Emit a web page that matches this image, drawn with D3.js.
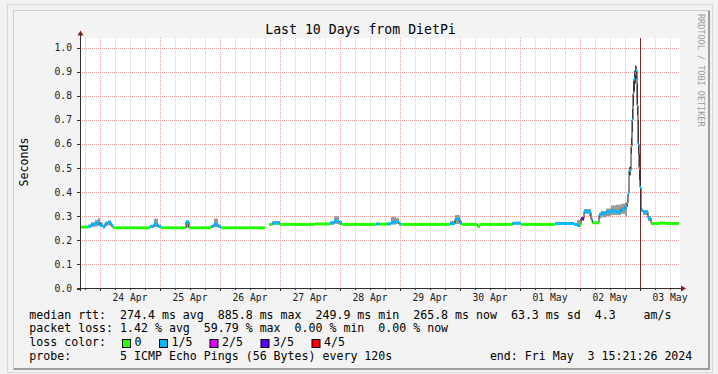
<!DOCTYPE html>
<html>
<head>
<meta charset="utf-8">
<script src="https://cdn.jsdelivr.net/npm/d3@7"></script>
<style>
body { margin: 0; background: #f2f2f2; }
svg text { font-family: "DejaVu Sans Mono", monospace; white-space: pre; }
</style>
</head>
<body>
<div id="root"></div>
<script>
// hours since 23 Apr 16:00 where each step starts
const stepHours = [0, 3.2, 4.4, 6, 7.2, 8, 9.2, 10, 11.2, 12.4, 13.2, 28, 29.6, 31.2, 32.4, 42.4, 43.6,
	52.4, 53.6, 55.2, 56.4, 74, 75.6, 77, 80, 94, 100, 101.6, 103.6, 104.8, 118.4, 120, 122.8, 124.4,
	126.4, 127.6, 128.4, 148, 150, 152, 152.8, 159, 160, 173, 176.4, 190, 197.6, 198.8, 200, 200.4,
	201.6, 203.6, 204.4, 205, 207.6, 208.4, 210.4, 212.4, 214.4, 216.4, 218, 218.8, 219.2, 219.6,
	220.4, 220.8, 221.2, 221.6, 222, 222.4, 222.8, 223.2, 223.6, 224, 224.4, 225.2, 227.2, 228.4,
	232, 234]
const lastHour = 239.6
// median rtt in ms (null = no data)
const medianMs = [255, 258, 266, 270, 276, 262, 256, 270, 275, 262, 252, 258, 268, 258, 252, 277, 252,
	258, 268, 258, 252, null, 266, 272, 266, 268, 272, 280, 272, 266, 268, 267, 268, 275,
	278, 268, 266, 270, 288, 272, 266, 258, 266, 271, 266, 270, 266, 262, 265, 290,
	320, 316, 285, 273, 305, 312, 318, 322, 318, 330, 340, 355, 395, 490,
	590, 700, 810, 870, 893, 905, 760, 600, 500, 420, 325, 318, 292, 270,
	272, 270]
// lost pings out of 5
const lossCount = [0, 1, 1, 1, 1, 1, 1, 1, 1, 1, 0, 1, 1, 1, 0, 1, 0,
	1, 1, 1, 0, 0, 0, 1, 0, 0, 1, 1, 1, 0, 1, 0, 1, 1,
	1, 1, 0, 1, 1, 1, 0, 0, 0, 1, 0, 1, 1, 1, 0, 3,
	1, 1, 1, 0, 1, 1, 1, 1, 1, 1, 1, 1, 1, 1,
	1, 1, 1, 1, 1, 1, 1, 1, 1, 1, 1, 1, 1, 0,
	0, 0]
const smokeLoMs = [252, 252, 256, 258, 260, 255, 250, 260, 262, 255, 250, 252, 255, 252, 250, 252, 250,
	252, 255, 252, 250, null, 264, 265, 264, 266, 265, 268, 265, 264, 265, 265, 265, 265,
	268, 265, 264, 264, 268, 264, 264, 255, 264, 266, 264, 266, 262, 255, 262, 280,
	310, 300, 278, 270, 290, 295, 300, 305, 305, 310, 300, 340, 380, 470,
	560, 650, 760, 820, 850, 870, 720, 560, 450, 380, 318, 305, 280, 268,
	270, 268]
const smokeHiMs = [258, 265, 275, 285, 292, 275, 262, 278, 282, 268, 254, 262, 290, 264, 254, 280, 254,
	262, 290, 264, 254, null, 268, 280, 268, 270, 278, 300, 280, 268, 271, 269, 271, 298,
	292, 272, 268, 280, 305, 280, 268, 262, 268, 276, 268, 273, 270, 285, 268, 295,
	330, 330, 295, 276, 315, 322, 332, 345, 348, 352, 358, 370, 405, 505,
	625, 745, 860, 905, 928, 922, 850, 700, 560, 440, 332, 325, 300, 272,
	274, 272]

const lossLabels = ["0", "1/5", "2/5", "3/5", "4/5"]
const lossColors = ["#26ff00", "#00b8ff", "#dd00ff", "#5e00ff", "#ff0000"]
const yTicks = [0, 0.1, 0.2, 0.3, 0.4, 0.5, 0.6, 0.7, 0.8, 0.9, 1.0]
const legendRows = [
	"median rtt:  274.4 ms avg  885.8 ms max  249.9 ms min  265.8 ms now  63.3 ms sd  4.3    am/s",
	"packet loss: 1.42 % avg  59.79 % max  0.00 % min  0.00 % now",
	"loss color:",
	"probe:       5 ICMP Echo Pings (56 Bytes) every 120s",
]
const endText = "end: Fri May  3 15:21:26 2024"

const W = 718, H = 374
const start = new Date(2024, 3, 23, 16, 0)
const hourMs = 3600 * 1000
const toDate = h => new Date(start.getTime() + h * hourMs)

const x = d3.scaleTime().domain([start, toDate(240)]).range([80, 680])
const y = d3.scaleLinear().domain([0, 1.04]).range([288.5, 38])
const crisp = v => Math.round(v) + 0.5

const svg = d3.select('#root').append('svg')
	.attr('width', W).attr('height', H)

// frame
svg.append('rect').attr('width', W).attr('height', H).attr('fill', '#f2f2f2')
svg.append('rect').attr('x', 7.5).attr('y', 4.5).attr('width', 705).attr('height', 368)
	.attr('fill', 'none').attr('stroke', '#d8d8d8')
svg.append('rect').attr('x', 13).attr('y', 10).attr('width', 697).attr('height', 360).attr('fill', '#f3f3f3')
svg.append('path').attr('d', 'M13.5,370V10.5H710').attr('fill', 'none').attr('stroke', '#cccccc')
svg.append('path').attr('d', 'M14,369H709V11').attr('fill', 'none').attr('stroke', '#9c9c9c').attr('stroke-width', 2)

// plot background
svg.append('rect').attr('x', 81).attr('y', 38).attr('width', 599).attr('height', 250).attr('fill', '#ffffff')

// grid
const minorTimes = d3.timeHour.every(6).range(toDate(0.01), toDate(240))
const grid = svg.append('g')
grid.selectAll('.minor').data(minorTimes.filter(d => d.getHours() !== 0)).enter()
	.append('line')
	.attr('x1', d => crisp(x(d))).attr('x2', d => crisp(x(d)))
	.attr('y1', 38).attr('y2', 288)
	.attr('stroke', '#c8c8c8').attr('stroke-dasharray', '1,1')
grid.selectAll('.major').data(d3.timeDay.range(toDate(0.01), toDate(240))).enter()
	.append('line')
	.attr('x1', d => crisp(x(d))).attr('x2', d => crisp(x(d)))
	.attr('y1', 38).attr('y2', 288)
	.attr('stroke', '#f29a9a').attr('stroke-dasharray', '1,1')
grid.selectAll('.hgrid').data(yTicks.slice(1)).enter()
	.append('line')
	.attr('x1', 80).attr('x2', 680)
	.attr('y1', d => crisp(y(d))).attr('y2', d => crisp(y(d)))
	.attr('stroke', '#f29a9a').attr('stroke-dasharray', '1,1')

// steps
const steps = stepHours.map((h, i) => ({
	h0: h,
	h1: i < stepHours.length - 1 ? stepHours[i + 1] : lastHour,
	med: medianMs[i],
	loss: lossCount[i],
	lo: smokeLoMs[i],
	hi: smokeHiMs[i],
})).filter(d => d.med !== null)

// smoke
svg.append('g').selectAll('rect').data(steps).enter()
	.append('rect')
	.attr('x', d => x(toDate(d.h0)))
	.attr('width', d => x(toDate(d.h1)) - x(toDate(d.h0)))
	.attr('y', d => y(d.hi / 1000))
	.attr('height', d => y(d.lo / 1000) - y(d.hi / 1000))
	.attr('fill', d => d.med > 400 ? '#555555' : '#9a9a9a')

// dark rule at 03 May
svg.append('line')
	.attr('x1', crisp(x(new Date(2024, 4, 3)))).attr('x2', crisp(x(new Date(2024, 4, 3))))
	.attr('y1', 38).attr('y2', 288)
	.attr('stroke', '#7f2a2a')

// median black line (step)
const pts = []
stepHours.forEach((h, i) => {
	pts.push({ h, v: medianMs[i] })
})
pts.push({ h: lastHour, v: medianMs[medianMs.length - 1] })
const line = d3.line()
	.defined(d => d.v !== null)
	.x(d => x(toDate(d.h)))
	.y(d => y(d.v / 1000))
	.curve(d3.curveStepAfter)
svg.append('path').datum(pts)
	.attr('d', line)
	.attr('fill', 'none')
	.attr('stroke', '#202020')
	.attr('stroke-width', 1)

// loss coloured median band
svg.append('g').selectAll('rect').data(steps).enter()
	.append('rect')
	.attr('x', d => x(toDate(d.h0)))
	.attr('width', d => x(toDate(d.h1)) - x(toDate(d.h0)))
	.attr('y', d => y(d.med / 1000) - 1.5)
	.attr('height', 3)
	.attr('fill', d => lossColors[d.loss])

// axes
const axisColor = '#303030'
svg.append('line').attr('x1', 80.5).attr('x2', 80.5).attr('y1', 291).attr('y2', 35)
	.attr('stroke', axisColor)
svg.append('line').attr('x1', 77).attr('x2', 683).attr('y1', 288.5).attr('y2', 288.5)
	.attr('stroke', axisColor)
svg.append('path').attr('d', 'M77.5,35.5L83.5,35.5L80.5,30.5Z').attr('fill', '#8b1a1a')
svg.append('path').attr('d', 'M681,285.5L681,291.5L686,288.5Z').attr('fill', '#8b1a1a')

svg.append('g').selectAll('line').data(yTicks).enter()
	.append('line')
	.attr('x1', 77).attr('x2', 80)
	.attr('y1', d => crisp(y(d))).attr('y2', d => crisp(y(d)))
	.attr('stroke', axisColor)
svg.append('g').selectAll('line').data(minorTimes).enter()
	.append('line')
	.attr('x1', d => crisp(x(d))).attr('x2', d => crisp(x(d)))
	.attr('y1', 288).attr('y2', d => d.getHours() === 0 ? 291 : 290)
	.attr('stroke', axisColor)

svg.append('g').selectAll('text').data(yTicks).enter()
	.append('text')
	.attr('x', 72).attr('y', d => y(d) + 3.5)
	.attr('text-anchor', 'end')
	.style('font-size', '9.7px')
	.attr('fill', '#202020')
	.text(d3.format('.1f'))

const dayFmt = d3.timeFormat('%d %b')
svg.append('g').selectAll('text').data(d3.timeDay.range(toDate(0.01), toDate(240))).enter()
	.append('text')
	.attr('x', d => x(d3.timeHour.offset(d, 12)))
	.attr('y', 301)
	.attr('text-anchor', 'middle')
	.style('font-size', '9.7px')
	.attr('fill', '#202020')
	.text(dayFmt)

// titles
svg.append('text').attr('x', 360.5).attr('y', 34)
	.attr('text-anchor', 'middle').style('font-size', '13.2px')
	.text('Last 10 Days from DietPi')
svg.append('text').attr('transform', 'translate(27.5,162) rotate(-90)')
	.attr('text-anchor', 'middle').style('font-size', '11.6px')
	.text('Seconds')
svg.append('text').attr('transform', 'translate(697.5,14) rotate(90)')
	.style('font-size', '8.5px').attr('fill', '#9a9a9a')
	.text('RRDTOOL / TOBI OETIKER')

// legend
const rowY = [318.5, 332.3, 346.1, 360]
svg.append('g').selectAll('text').data(legendRows).enter()
	.append('text')
	.attr('x', 29.3).attr('y', (d, i) => rowY[i])
	.style('font-size', '11.6px')
	.text(d => d)
svg.append('text').attr('x', 692.3).attr('y', rowY[3])
	.attr('text-anchor', 'end').style('font-size', '11.6px')
	.text(endText)

const boxX = [122, 159, 209.5, 260.5, 311.5]
const lossLegend = svg.append('g').selectAll('g').data(lossLabels).enter().append('g')
lossLegend.append('rect')
	.attr('x', (d, i) => boxX[i] + 0.5).attr('y', 339.5)
	.attr('width', 8).attr('height', 8)
	.attr('fill', (d, i) => lossColors[i]).attr('stroke', '#000')
lossLegend.append('text')
	.attr('x', (d, i) => boxX[i] + 12.5).attr('y', rowY[2])
	.style('font-size', '11.6px')
	.text(d => d)
</script>
</body>
</html>
